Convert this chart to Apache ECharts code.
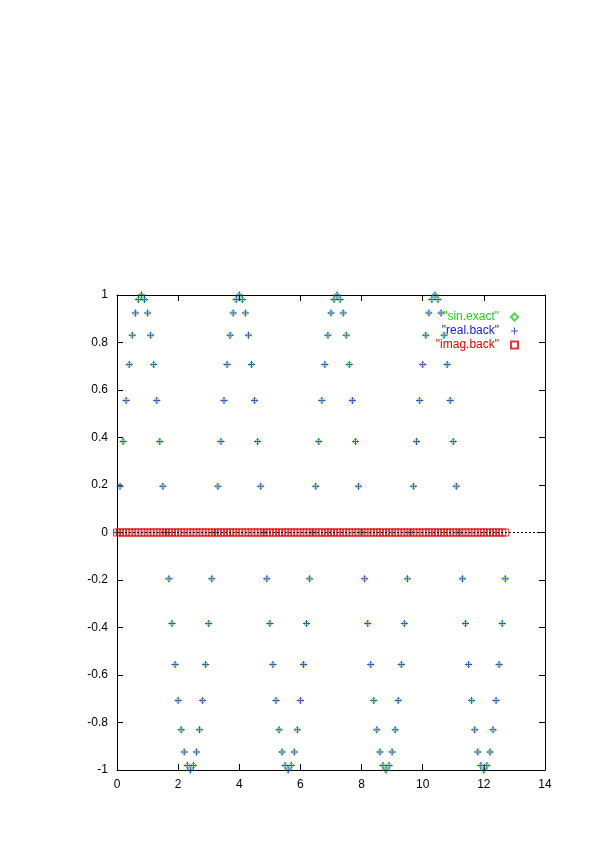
<!DOCTYPE html>
<html>
<head>
<meta charset="utf-8">
<script src="https://cdn.jsdelivr.net/npm/echarts@6/dist/echarts.min.js"></script>
<style>html,body{margin:0;padding:0;background:#fff;}#c{width:595px;height:842px;}</style>
</head>
<body>
<div id="c"></div>
<script>
const xValues = [
0,0.1,0.2,0.3,0.4,0.5,0.6,0.7,0.8,0.9,
1,1.1,1.2,1.3,1.4,1.5,1.6,1.7,1.8,1.9,
2,2.1,2.2,2.3,2.4,2.5,2.6,2.7,2.8,2.9,
3,3.1,3.2,3.3,3.4,3.5,3.6,3.7,3.8,3.9,
4,4.1,4.2,4.3,4.4,4.5,4.6,4.7,4.8,4.9,
5,5.1,5.2,5.3,5.4,5.5,5.6,5.7,5.8,5.9,
6,6.1,6.2,6.3,6.4,6.5,6.6,6.7,6.8,6.9,
7,7.1,7.2,7.3,7.4,7.5,7.6,7.7,7.8,7.9,
8,8.1,8.2,8.3,8.4,8.5,8.6,8.7,8.8,8.9,
9,9.1,9.2,9.3,9.4,9.5,9.6,9.7,9.8,9.9,
10,10.1,10.2,10.3,10.4,10.5,10.6,10.7,10.8,10.9,
11,11.1,11.2,11.3,11.4,11.5,11.6,11.7,11.8,11.9,
12,12.1,12.2,12.3,12.4,12.5,12.6,12.7
];
const sinExact = [
0,0.195,0.383,0.556,0.707,0.831,0.924,0.981,1,0.981,0.924,0.831,0.707,0.556,0.383,0.195,
0,-0.195,-0.383,-0.556,-0.707,-0.831,-0.924,-0.981,-1,-0.981,-0.924,-0.831,-0.707,-0.556,-0.383,-0.195,
0,0.195,0.383,0.556,0.707,0.831,0.924,0.981,1,0.981,0.924,0.831,0.707,0.556,0.383,0.195,
0,-0.195,-0.383,-0.556,-0.707,-0.831,-0.924,-0.981,-1,-0.981,-0.924,-0.831,-0.707,-0.556,-0.383,-0.195,
0,0.195,0.383,0.556,0.707,0.831,0.924,0.981,1,0.981,0.924,0.831,0.707,0.556,0.383,0.195,
0,-0.195,-0.383,-0.556,-0.707,-0.831,-0.924,-0.981,-1,-0.981,-0.924,-0.831,-0.707,-0.556,-0.383,-0.195,
0,0.195,0.383,0.556,0.707,0.831,0.924,0.981,1,0.981,0.924,0.831,0.707,0.556,0.383,0.195,
0,-0.195,-0.383,-0.556,-0.707,-0.831,-0.924,-0.981,-1,-0.981,-0.924,-0.831,-0.707,-0.556,-0.383,-0.195
];
const realBack = [
0,0.195,0.383,0.556,0.707,0.831,0.924,0.981,1,0.981,0.924,0.831,0.707,0.556,0.383,0.195,
0,-0.195,-0.383,-0.556,-0.707,-0.831,-0.924,-0.981,-1,-0.981,-0.924,-0.831,-0.707,-0.556,-0.383,-0.195,
0,0.195,0.383,0.556,0.707,0.831,0.924,0.981,1,0.981,0.924,0.831,0.707,0.556,0.383,0.195,
0,-0.195,-0.383,-0.556,-0.707,-0.831,-0.924,-0.981,-1,-0.981,-0.924,-0.831,-0.707,-0.556,-0.383,-0.195,
0,0.195,0.383,0.556,0.707,0.831,0.924,0.981,1,0.981,0.924,0.831,0.707,0.556,0.383,0.195,
0,-0.195,-0.383,-0.556,-0.707,-0.831,-0.924,-0.981,-1,-0.981,-0.924,-0.831,-0.707,-0.556,-0.383,-0.195,
0,0.195,0.383,0.556,0.707,0.831,0.924,0.981,1,0.981,0.924,0.831,0.707,0.556,0.383,0.195,
0,-0.195,-0.383,-0.556,-0.707,-0.831,-0.924,-0.981,-1,-0.981,-0.924,-0.831,-0.707,-0.556,-0.383,-0.195
];
const imagBack = [
0,0,0,0,0,0,0,0,0,0,0,0,0,0,0,0,0,0,0,0,0,0,0,0,0,0,0,0,0,0,0,0,
0,0,0,0,0,0,0,0,0,0,0,0,0,0,0,0,0,0,0,0,0,0,0,0,0,0,0,0,0,0,0,0,
0,0,0,0,0,0,0,0,0,0,0,0,0,0,0,0,0,0,0,0,0,0,0,0,0,0,0,0,0,0,0,0,
0,0,0,0,0,0,0,0,0,0,0,0,0,0,0,0,0,0,0,0,0,0,0,0,0,0,0,0,0,0,0,0
];
const seriesNames = ['"sin.exact"', '"real.back"', '"imag.back"'];
const xTicks = [0, 14, 2];
const yTicks = [-1, 1, 0.2];

const FONT = 'Liberation Sans, Arial, sans-serif';
const GREEN = '#22cc22', BLUE = '#1426b8', RED = '#e00000';
const pair = ys => xValues.map((x, i) => [x, ys[i]]);
const plusPath = 'path://M3,0h1v7h-1z M0,3h7v1h-7z';

const chart = echarts.init(document.getElementById('c'), null, {renderer: 'canvas'});
const axisCommon = {
  axisLine: {show: true, onZero: false, lineStyle: {color: '#000', width: 1}},
  axisTick: {show: true, inside: true, length: 6, lineStyle: {color: '#000'}},
  splitLine: {show: false},
};
chart.setOption({
  animation: false,
  backgroundColor: '#fff',
  grid: {left: 117, right: 50, top: 295, bottom: 72, containLabel: false},
  legend: {
    orient: 'vertical', right: 71, top: 305, align: 'right',
    itemWidth: 7, itemHeight: 7, itemGap: 0,
    textStyle: {fontSize: 12, fontFamily: FONT, padding: [0, 7, 0, 0], lineHeight: 14},
    data: [
      {name: seriesNames[0], textStyle: {color: GREEN}},
      {name: seriesNames[1], textStyle: {color: BLUE}},
      {name: seriesNames[2], textStyle: {color: RED}}
    ]
  },
  xAxis: [
    Object.assign({type: 'value', position: 'bottom', min: xTicks[0], max: xTicks[1], interval: xTicks[2],
      axisLabel: {color: '#000', fontSize: 12, fontFamily: FONT, margin: 9}}, axisCommon),
    Object.assign({type: 'value', position: 'top', min: xTicks[0], max: xTicks[1], interval: xTicks[2],
      axisLabel: {show: false}}, axisCommon)
  ],
  yAxis: [
    Object.assign({type: 'value', position: 'left', min: yTicks[0], max: yTicks[1], interval: yTicks[2],
      axisLabel: {color: '#000', fontSize: 12, fontFamily: FONT, margin: 9}}, axisCommon),
    Object.assign({type: 'value', position: 'right', min: yTicks[0], max: yTicks[1], interval: yTicks[2],
      axisLabel: {show: false}}, axisCommon)
  ],
  series: [
    {
      name: seriesNames[0], type: 'scatter', data: pair(sinExact),
      symbol: 'diamond', symbolSize: 6,
      itemStyle: {color: 'transparent', borderColor: GREEN, borderWidth: 1}
    },
    {
      name: seriesNames[1], type: 'scatter', data: pair(realBack),
      symbol: plusPath, symbolSize: 7,
      itemStyle: {color: BLUE}
    },
    {
      name: seriesNames[2], type: 'scatter', data: pair(imagBack),
      symbol: 'rect', symbolSize: 7,
      itemStyle: {color: 'transparent', borderColor: RED, borderWidth: 1},
      markLine: {
        silent: true, symbol: 'none', label: {show: false}, animation: false,
        lineStyle: {color: '#000', type: [2, 2], width: 1},
        data: [{yAxis: 0}]
      }
    }
  ]
});
</script>
</body>
</html>
